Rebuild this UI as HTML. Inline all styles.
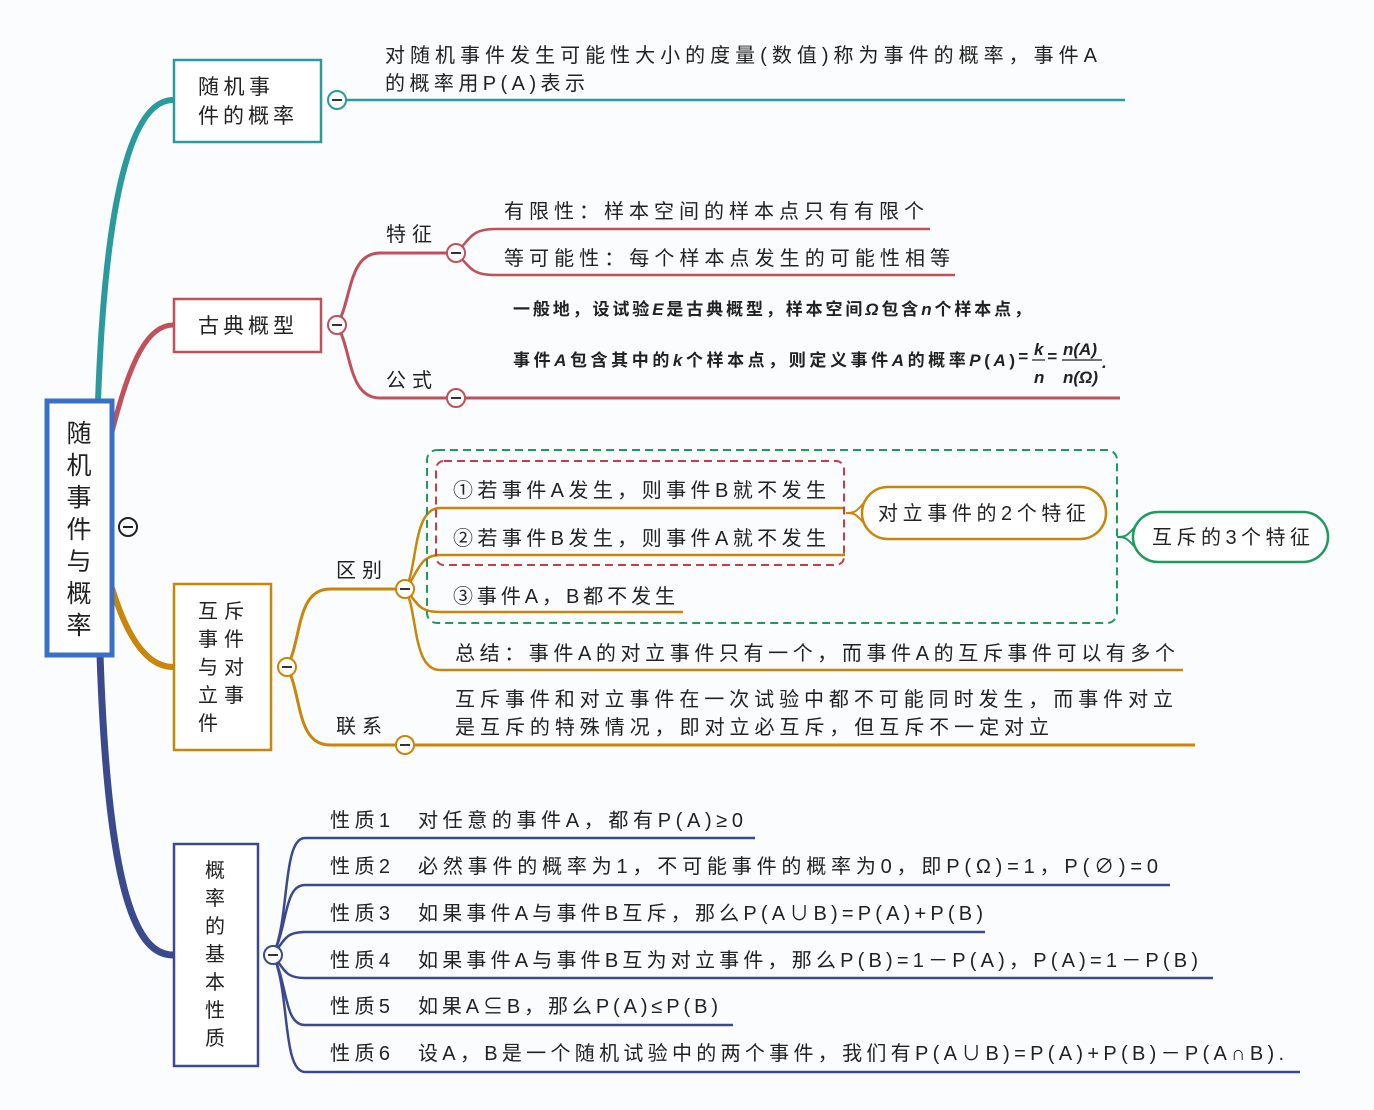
<!DOCTYPE html>
<html><head><meta charset="utf-8"><style>
html,body{margin:0;padding:0;background:#fbfcfd;}
svg{display:block;}
text{font-family:"Liberation Sans","Noto Sans CJK SC",sans-serif;fill:#222;}
</style></head><body>
<svg width="1374" height="1110" viewBox="0 0 1374 1110" xmlns="http://www.w3.org/2000/svg">
<rect width="1374" height="1110" fill="#fbfcfd"/>

<!-- main branches -->
<path d="M98,402 C104,230 125,100 173,100" fill="none" stroke="#2a9a9c" stroke-width="6"/>
<path d="M112,432 C130,360 148,325 173,325" fill="none" stroke="#c0505a" stroke-width="5"/>
<path d="M112,588 C128,640 148,667 173,667" fill="none" stroke="#c8860a" stroke-width="6"/>
<path d="M100,654 C108,900 138,955 173,955" fill="none" stroke="#3a4a8c" stroke-width="7"/>

<!-- root -->
<rect x="47" y="401" width="65" height="254" fill="#fff" stroke="#3a6fc6" stroke-width="5"/>
<g font-size="25" text-anchor="middle">
<text x="79" y="442">随</text><text x="79" y="474">机</text><text x="79" y="506">事</text>
<text x="79" y="538">件</text><text x="79" y="570">与</text><text x="79" y="602">概</text><text x="79" y="634">率</text>
</g>
<circle cx="128" cy="527" r="9" fill="#fff" stroke="#222" stroke-width="2"/>
<line x1="123" y1="527" x2="133" y2="527" stroke="#222" stroke-width="2"/>

<!-- Branch 1 teal -->
<rect x="174" y="60" width="147" height="82" fill="#fff" stroke="#2a9a9c" stroke-width="2.5"/>
<text x="198" y="94" font-size="21" textLength="72">随机事</text>
<text x="198" y="123" font-size="21" textLength="96">件的概率</text>
<line x1="337" y1="100" x2="1125" y2="100" stroke="#2a9a9c" stroke-width="2.5"/>
<circle cx="337" cy="100" r="9" fill="#fff" stroke="#2a9a9c" stroke-width="2"/>
<line x1="332" y1="100" x2="342" y2="100" stroke="#333" stroke-width="2"/>
<text x="385" y="62" font-size="20" textLength="712">对随机事件发生可能性大小的度量(数值)称为事件的概率，事件A</text>
<text x="385" y="90" font-size="20" textLength="200">的概率用P(A)表示</text>

<!-- Branch 2 red -->
<rect x="174" y="299" width="147" height="53" fill="#fff" stroke="#c0505a" stroke-width="2.5"/>
<text x="198" y="333" font-size="21" textLength="96">古典概型</text>
<path d="M337,325 C352,300 348,253 380,253 L456,253" fill="none" stroke="#c0505a" stroke-width="3"/>
<path d="M337,325 C352,350 348,398 380,398 L1120,398" fill="none" stroke="#c0505a" stroke-width="3"/>
<path d="M456,253 C470,240 470,229 495,229 L930,229" fill="none" stroke="#c0505a" stroke-width="2.5"/>
<path d="M456,253 C470,266 470,275 495,275 L955,275" fill="none" stroke="#c0505a" stroke-width="2.5"/>
<circle cx="337" cy="325" r="9" fill="#fff" stroke="#c0505a" stroke-width="2"/>
<line x1="332" y1="325" x2="342" y2="325" stroke="#333" stroke-width="2"/>
<circle cx="456" cy="253" r="9" fill="#fff" stroke="#c0505a" stroke-width="2"/>
<line x1="451" y1="253" x2="461" y2="253" stroke="#333" stroke-width="2"/>
<circle cx="456" cy="398" r="9" fill="#fff" stroke="#c0505a" stroke-width="2"/>
<line x1="451" y1="398" x2="461" y2="398" stroke="#333" stroke-width="2"/>
<text x="386" y="241" font-size="20" textLength="46">特征</text>
<text x="386" y="387" font-size="20" textLength="46">公式</text>
<text x="504" y="218" font-size="20" textLength="420">有限性：样本空间的样本点只有有限个</text>
<text x="504" y="265" font-size="20" textLength="446">等可能性：每个样本点发生的可能性相等</text>
<text x="513" y="315" font-size="17" font-weight="bold" font-family="Liberation Serif,'Noto Serif CJK SC',serif" textLength="518">一般地，设试验<tspan font-style="italic">E</tspan>是古典概型，样本空间<tspan font-style="italic">Ω</tspan>包含<tspan font-style="italic">n</tspan>个样本点，</text>
<text x="513" y="366" font-size="17" font-weight="bold" font-family="Liberation Serif,'Noto Serif CJK SC',serif" textLength="502">事件<tspan font-style="italic">A</tspan>包含其中的<tspan font-style="italic">k</tspan>个样本点，则定义事件<tspan font-style="italic">A</tspan>的概率<tspan font-style="italic">P</tspan>(<tspan font-style="italic">A</tspan>)</text>
<g font-family="Liberation Serif,serif" font-weight="bold" font-style="italic" font-size="17">
<text x="1018" y="362">=</text><text x="1034" y="355">k</text><text x="1034" y="383">n</text>
<line x1="1032" y1="360" x2="1045" y2="360" stroke="#222" stroke-width="1.2"/>
<text x="1047" y="362">=</text>
<text x="1063" y="355">n(A)</text><text x="1063" y="383">n(Ω)</text>
<line x1="1062" y1="360" x2="1102" y2="360" stroke="#222" stroke-width="1.2"/>
<text x="1102" y="368">.</text>
</g>

<!-- Branch 3 orange -->
<rect x="174" y="584" width="97" height="166" fill="#fff" stroke="#c8860a" stroke-width="2.5"/>
<g font-size="20">
<text x="198" y="618" textLength="46">互斥</text>
<text x="198" y="646" textLength="46">事件</text>
<text x="198" y="674" textLength="46">与对</text>
<text x="198" y="702" textLength="46">立事</text>
<text x="198" y="730">件</text>
</g>
<path d="M287,667 C302,640 296,589 330,589 L405,589" fill="none" stroke="#c8860a" stroke-width="3"/>
<path d="M287,667 C302,694 296,745 330,745 L1195,745" fill="none" stroke="#c8860a" stroke-width="3"/>
<text x="336" y="577" font-size="20" textLength="46">区别</text>
<text x="336" y="733" font-size="20" textLength="46">联系</text>
<path d="M405,589 C418,570 412,508 440,508 L845,508" fill="none" stroke="#c8860a" stroke-width="2.5"/>
<path d="M405,589 C418,575 418,555 440,555 L845,555" fill="none" stroke="#c8860a" stroke-width="2.5"/>
<path d="M405,589 C418,603 418,612 440,612 L683,612" fill="none" stroke="#c8860a" stroke-width="2.5"/>
<path d="M405,589 C418,610 412,670 440,670 L1183,670" fill="none" stroke="#c8860a" stroke-width="2.5"/>
<circle cx="287" cy="667" r="9" fill="#fff" stroke="#c8860a" stroke-width="2"/>
<line x1="282" y1="667" x2="292" y2="667" stroke="#333" stroke-width="2"/>
<circle cx="405" cy="589" r="9" fill="#fff" stroke="#c8860a" stroke-width="2"/>
<line x1="400" y1="589" x2="410" y2="589" stroke="#333" stroke-width="2"/>
<circle cx="405" cy="745" r="9" fill="#fff" stroke="#c8860a" stroke-width="2"/>
<line x1="400" y1="745" x2="410" y2="745" stroke="#333" stroke-width="2"/>

<rect x="427" y="450" width="690" height="173" rx="10" fill="none" stroke="#1f9a5e" stroke-width="2" stroke-dasharray="8,5"/>
<rect x="436" y="461" width="408" height="104" rx="8" fill="none" stroke="#c0404a" stroke-width="2" stroke-dasharray="8,5"/>
<text x="453" y="497" font-size="20" textLength="373">①若事件A发生，则事件B就不发生</text>
<text x="453" y="545" font-size="20" textLength="373">②若事件B发生，则事件A就不发生</text>
<text x="453" y="603" font-size="20" textLength="222">③事件A，B都不发生</text>
<text x="455" y="660" font-size="20" textLength="720">总结：事件A的对立事件只有一个，而事件A的互斥事件可以有多个</text>
<text x="455" y="706" font-size="20" textLength="718">互斥事件和对立事件在一次试验中都不可能同时发生，而事件对立</text>
<text x="455" y="734" font-size="20" textLength="594">是互斥的特殊情况，即对立必互斥，但互斥不一定对立</text>

<path d="M846,513 C856,513 856,511 864,503 M846,513 C856,513 856,515 864,523" fill="none" stroke="#c8860a" stroke-width="2"/>
<rect x="862" y="487" width="244" height="52" rx="26" fill="#fff" stroke="#c8860a" stroke-width="2.5"/>
<text x="878" y="520" font-size="20" textLength="208">对立事件的2个特征</text>
<path d="M1117,537 C1127,537 1127,535 1135,527 M1117,537 C1127,537 1127,539 1135,547" fill="none" stroke="#1f9a5e" stroke-width="2"/>
<rect x="1133" y="512" width="195" height="50" rx="25" fill="#fff" stroke="#1f9a5e" stroke-width="2.5"/>
<text x="1152" y="544" font-size="20" textLength="158">互斥的3个特征</text>

<!-- Branch 4 navy -->
<rect x="174" y="844" width="84" height="222" fill="#fff" stroke="#3a4a8c" stroke-width="2.5"/>
<g font-size="20" text-anchor="middle">
<text x="215" y="877">概</text><text x="215" y="905">率</text><text x="215" y="933">的</text>
<text x="215" y="961">基</text><text x="215" y="989">本</text><text x="215" y="1017">性</text><text x="215" y="1045">质</text>
</g>
<g fill="none" stroke="#3a4a8c" stroke-width="2.5">
<path d="M273,955 C290,920 282,838 305,838 L755,838"/>
<path d="M273,955 C288,925 284,885 305,885 L1170,885"/>
<path d="M273,955 C285,940 285,932 305,932 L985,932"/>
<path d="M273,955 C285,970 285,978 305,978 L1213,978"/>
<path d="M273,955 C288,985 284,1025 305,1025 L733,1025"/>
<path d="M273,955 C290,990 282,1072 305,1072 L1300,1072"/>
</g>
<circle cx="273" cy="955" r="9" fill="#fff" stroke="#3a4a8c" stroke-width="2"/>
<line x1="268" y1="955" x2="278" y2="955" stroke="#333" stroke-width="2"/>
<g font-size="20">
<text x="330" y="827" textLength="60">性质1</text>
<text x="418" y="827" textLength="325">对任意的事件A，都有P(A)≥0</text>
<text x="330" y="873" textLength="60">性质2</text>
<text x="418" y="873" textLength="740">必然事件的概率为1，不可能事件的概率为0，即P(Ω)=1，P(∅)=0</text>
<text x="330" y="920" textLength="60">性质3</text>
<text x="418" y="920" textLength="565">如果事件A与事件B互斥，那么P(A∪B)=P(A)+P(B)</text>
<text x="330" y="967" textLength="60">性质4</text>
<text x="418" y="967" textLength="780">如果事件A与事件B互为对立事件，那么P(B)=1－P(A)，P(A)=1－P(B)</text>
<text x="330" y="1013" textLength="60">性质5</text>
<text x="418" y="1013" textLength="300">如果A⊆B，那么P(A)≤P(B)</text>
<text x="330" y="1060" textLength="60">性质6</text>
<text x="418" y="1060" textLength="866">设A，B是一个随机试验中的两个事件，我们有P(A∪B)=P(A)+P(B)－P(A∩B).</text>
</g>
</svg>
</body></html>
